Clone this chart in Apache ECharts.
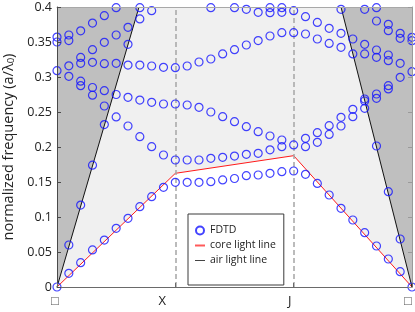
<!DOCTYPE html>
<html>
<head>
<meta charset="utf-8">
<script src="https://cdn.jsdelivr.net/npm/echarts@6/dist/echarts.min.js"></script>
<style>
html,body{margin:0;padding:0;background:#fff;}
#chart{width:415px;height:312px;}
</style>
</head>
<body>
<div id="chart"></div>
<script>
// k-path positions (Γ=0, X=1, J=2, Γ=3)
const kPos = [0,0.1,0.2,0.3,0.4,0.5,0.6,0.7,0.8,0.9,1.0,1.1,1.2,1.3,1.4,1.5,1.6,1.7,1.8,1.9,2.0,2.1,2.2,2.3,2.4,2.5,2.6,2.7,2.8,2.9,3.0];
const xTickPos = [0,1,2,3];
const xTickLabels = ['□','X','J','□'];

// FDTD frequencies: band N = N-th lowest point at each k (null = none)
const band1 = [0,0.0196,0.0347,0.0529,0.0671,0.0838,0.0981,0.1147,0.129,0.1424,0.1495,0.1495,0.1495,0.1505,0.1529,0.155,0.159,0.160,0.1624,0.1648,0.1657,0.161,0.148,0.1314,0.1124,0.0957,0.0776,0.0586,0.040,0.0219,0];
const band2 = [0.309,0.060,0.117,0.174,0.232,0.243,0.230,0.2147,0.2004,0.1886,0.1814,0.1814,0.1814,0.1838,0.1852,0.1871,0.1895,0.191,0.196,0.2004,0.2029,0.2004,0.2067,0.218,0.230,0.2433,0.2552,0.2014,0.1362,0.0686,0.3076];
const band3 = [0.350,0.301,0.2876,0.274,0.2586,0.275,0.271,0.267,0.2638,0.2614,0.2614,0.260,0.2567,0.250,0.2433,0.2362,0.229,0.2219,0.2157,0.210,0.3633,0.2124,0.2204,0.2304,0.2424,0.2538,0.2657,0.2695,0.2829,0.2995,0.3519];
const band4 = [0.357,0.316,0.294,0.285,0.2805,0.3195,0.317,0.317,0.3157,0.3138,0.3133,0.3157,0.3214,0.3257,0.333,0.339,0.3457,0.352,0.3586,0.3633,0.3948,0.3614,0.3543,0.348,0.3424,0.3329,0.2686,0.2757,0.2876,0.3195,0.3567];
const band5 = [null,0.352,0.3195,0.321,0.319,0.360,0.3467,0.383,0.3948,null,null,null,null,0.399,null,0.399,0.3967,0.3924,0.3919,0.3924,null,0.3862,0.378,0.3695,0.3624,0.3543,0.3329,0.3281,0.3233,0.3552,null];
const band6 = [null,0.360,0.328,0.339,0.3496,0.399,0.371,0.399,null,null,null,null,null,null,null,null,null,null,0.399,0.399,null,null,null,null,0.3967,null,0.3467,0.3386,0.3314,0.3624,null];
const band7 = [null,null,0.366,0.377,0.3876,null,null,null,null,null,null,null,null,null,null,null,null,null,null,null,null,null,null,null,null,null,0.3967,0.380,0.3662,null,null];
const band8 = [null,null,null,null,null,null,null,null,null,null,null,null,null,null,null,null,null,null,null,null,null,null,null,null,null,null,null,0.399,0.3752,null,null];

// light lines
const coreLineX = [0,1,2,3];
const coreLineY = [0,0.1624,0.1876,0];
const airLeftX = [0,0.693];
const airLeftY = [0,0.4];
const airRightX = [2.4,3];
const airRightY = [0.4,0];

const bands = [band1,band2,band3,band4,band5,band6,band7,band8];
const fdtdData = [];
bands.forEach(b => b.forEach((v,i) => { if (v !== null) fdtdData.push([kPos[i], v]); }));
const pair = (xs, ys) => xs.map((x,i) => [x, ys[i]]);

const FONT = 'Open Sans';
const chart = echarts.init(document.getElementById('chart'), null, {renderer:'canvas'});
chart.setOption({
  animation:false,
  grid:{left:57,right:3,top:7,bottom:25,show:true,backgroundColor:'#f0f0f0',borderWidth:0,containLabel:false,outerBoundsMode:'none'},
  xAxis:[{
    type:'value',min:0,max:3,interval:1,z:10,
    axisLine:{show:true,onZero:false,lineStyle:{color:'#6a6a6a',width:1}},
    axisTick:{show:true,inside:true,length:4,lineStyle:{color:'#6a6a6a'}},
    splitLine:{show:false},
    axisLabel:{
      showMinLabel:true,showMaxLabel:true,margin:8,fontSize:13,color:'#222',fontFamily:FONT,
      formatter:(v)=>{const i=xTickPos.indexOf(Math.round(v)); return '{t'+i+'|'+xTickLabels[i]+'}';},
      rich:{
        t0:{fontSize:13,color:'#555',fontFamily:FONT,padding:[0,4,0,0]},
        t1:{fontSize:13,color:'#222',fontFamily:FONT,padding:[0,26,0,0]},
        t2:{fontSize:13,color:'#222',fontFamily:FONT,padding:[0,8,0,0]},
        t3:{fontSize:13,color:'#555',fontFamily:FONT,padding:[0,8,0,0]}
      }
    }
  },{
    type:'value',position:'top',min:0,max:3,interval:1,z:10,
    axisLine:{show:true,onZero:false,lineStyle:{color:'#a8a8a8',width:1}},
    axisTick:{show:false},axisLabel:{show:false},splitLine:{show:false}
  }],
  yAxis:[{
    type:'value',min:0,max:0.4,interval:0.05,z:10,
    axisLine:{show:true,onZero:false,lineStyle:{color:'#4a4a4a',width:1}},
    axisTick:{show:true,inside:true,length:4,lineStyle:{color:'#4a4a4a'}},
    splitLine:{show:false},
    axisLabel:{fontSize:12.5,color:'#222',fontFamily:FONT,margin:5},
    name:'{a|normalized frequency (a/λ}{b|0}{a|)}',
    nameLocation:'middle',nameGap:38,
    nameTextStyle:{rich:{
      a:{fontSize:14.5,color:'#222',fontFamily:FONT,lineHeight:18,verticalAlign:'bottom'},
      b:{fontSize:9.5,color:'#222',fontFamily:FONT,lineHeight:12,verticalAlign:'bottom'}
    }}
  },{
    type:'value',position:'right',min:0,max:0.4,interval:0.05,z:10,
    axisLine:{show:true,onZero:false,lineStyle:{color:'#9a9a9a',width:1}},
    axisTick:{show:true,inside:true,length:4,lineStyle:{color:'#9a9a9a'}},
    axisLabel:{show:false},splitLine:{show:false}
  }],
  legend:{
    orient:'vertical',left:188,top:214,z:20,
    padding:[10,8,18,7],itemGap:2,itemWidth:10,itemHeight:8,
    backgroundColor:'#fff',borderColor:'#3a3a3a',borderWidth:1,borderRadius:0,
    textStyle:{fontSize:10.5,fontFamily:FONT,color:'#222',lineHeight:13},
    data:[
      {name:'FDTD',icon:'circle'},
      {name:'core light line',icon:'path://M0,0H10V2H0Z',itemStyle:{color:'#ff5a5a',borderWidth:0}},
      {name:'air light line',icon:'path://M0,0H10V1H0Z',itemStyle:{color:'#444',borderWidth:0}}
    ]
  },
  series:[
    {
      name:'core light line',type:'line',z:2,data:pair(coreLineX,coreLineY),
      symbol:'none',lineStyle:{color:'#ff1a1a',width:1},
      areaStyle:{color:'#ffffff',opacity:1,origin:'start'}
    },
    {
      name:'air light line',type:'line',z:3,data:pair(airLeftX,airLeftY),
      symbol:'none',lineStyle:{color:'#111',width:1},
      areaStyle:{color:'#bfbfbf',opacity:1,origin:'end'}
    },
    {
      name:'air light line',type:'line',z:3,data:pair(airRightX,airRightY),
      symbol:'none',lineStyle:{color:'#111',width:1},
      areaStyle:{color:'#bfbfbf',opacity:1,origin:'end'},
      markLine:{
        silent:true,symbol:['none','none'],label:{show:false},
        lineStyle:{color:'#a5a5a5',type:[5,3],width:1.5},
        data:[{xAxis:xTickPos[1]},{xAxis:xTickPos[2]}]
      }
    },
    {
      name:'FDTD',type:'scatter',z:5,data:fdtdData,
      symbol:'circle',symbolSize:8,
      itemStyle:{color:'rgba(0,0,0,0)',borderColor:'#1414ff',borderWidth:1.2}
    }
  ]
});
</script>
</body>
</html>
